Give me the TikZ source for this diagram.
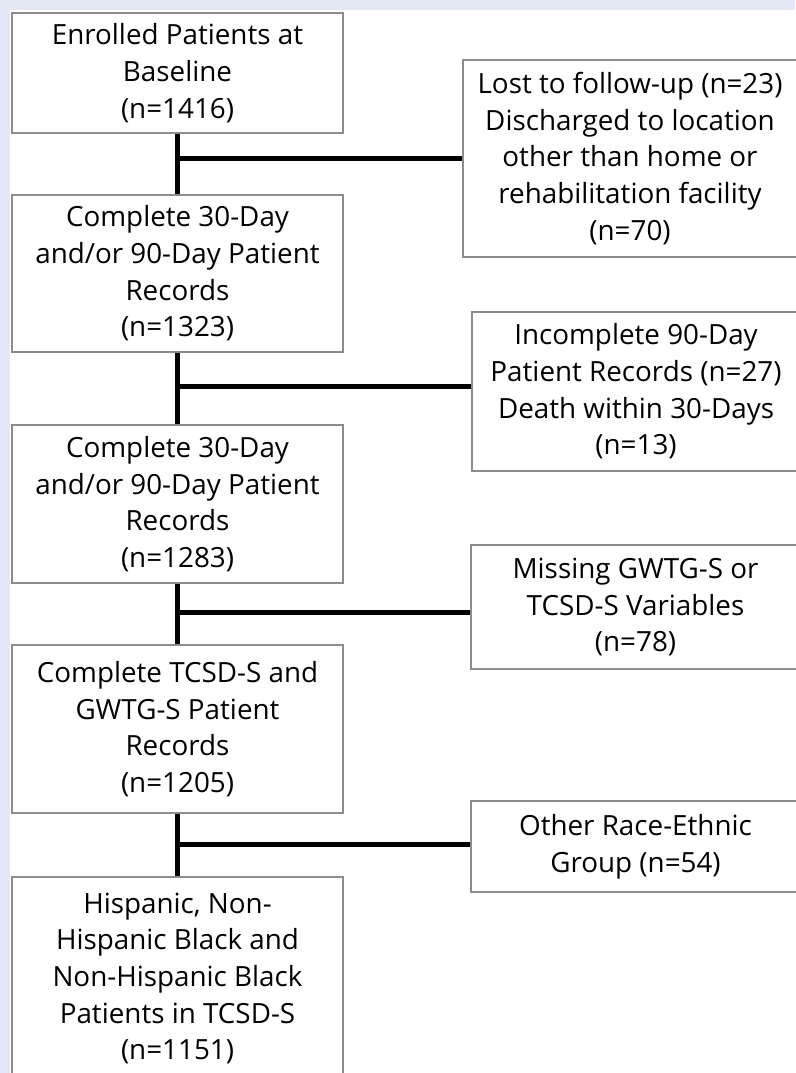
\documentclass[tikz,border=0pt]{standalone}
\usepackage{fontspec}
\setmainfont{Open Sans}
\definecolor{lavender}{HTML}{E4E7F4}
\definecolor{boxline}{HTML}{8C8C8C}
\tikzset{
  box/.style={draw=boxline, line width=1.2pt, fill=white, inner sep=0pt, align=center,
    font=\fontsize{27.8}{36.7}\selectfont},
  link/.style={line width=5pt}
}
\begin{document}
\begin{tikzpicture}[x=1pt, y=-1pt]
  \fill[lavender] (0,0) rectangle (795,1073);
  \fill[white] (10,10) rectangle (795,1073);
  \useasboundingbox (0,0) rectangle (795,1073);

  \node[box, minimum width=331pt, minimum height=120pt] (enrolled) at (177.5,73)
    {Enrolled Patients at\\Baseline\\(n=1416)};
  \node[box, minimum width=331pt, minimum height=157pt] (records1) at (177.5,273.5)
    {Complete 30-Day\\and/or 90-Day Patient\\Records\\(n=1323)};
  \node[box, minimum width=331pt, minimum height=158pt] (records2) at (177.5,504)
    {Complete 30-Day\\and/or 90-Day Patient\\Records\\(n=1283)};
  \node[box, minimum width=331pt, minimum height=168pt] (complete) at (177.5,729)
    {Complete TCSD-S and\\GWTG-S Patient\\Records\\(n=1205)};
  \node[box, minimum width=331pt, minimum height=203pt] (final) at (177.5,978.5)
    {Hispanic, Non-\\Hispanic Black and\\Non-Hispanic Black\\Patients in TCSD-S\\(n=1151)};

  \node[box, minimum width=334pt, minimum height=197pt] (lost) at (630,158.5)
    {Lost to follow-up (n=23)\\Discharged to location\\other than home or\\rehabilitation facility\\(n=70)};
  \node[box, minimum width=328pt, minimum height=159pt] (incomplete) at (636,391.5)
    {Incomplete 90-Day\\Patient Records (n=27)\\Death within 30-Days\\(n=13)};
  \node[box, minimum width=329pt, minimum height=124pt] (missing) at (635.5,607)
    {Missing GWTG-S or\\TCSD-S Variables\\(n=78)};
  \node[box, minimum width=329pt, minimum height=91pt] (other) at (635.5,846.5)
    {Other Race-Ethnic\\Group (n=54)};

  \coordinate (j1) at (177.5,158);
  \coordinate (j2) at (177.5,386);
  \coordinate (j3) at (177.5,612);
  \coordinate (j4) at (177.5,844);

  \draw[link] (enrolled.south) -- (records1.north);
  \draw[link] (records1.south) -- (records2.north);
  \draw[link] (records2.south) -- (complete.north);
  \draw[link] (complete.south) -- (final.north);

  \draw[link] (j1) -- (j1 -| lost.west);
  \draw[link] (j2) -- (j2 -| incomplete.west);
  \draw[link] (j3) -- (j3 -| missing.west);
  \draw[link] (j4) -- (j4 -| other.west);
\end{tikzpicture}
\end{document}
